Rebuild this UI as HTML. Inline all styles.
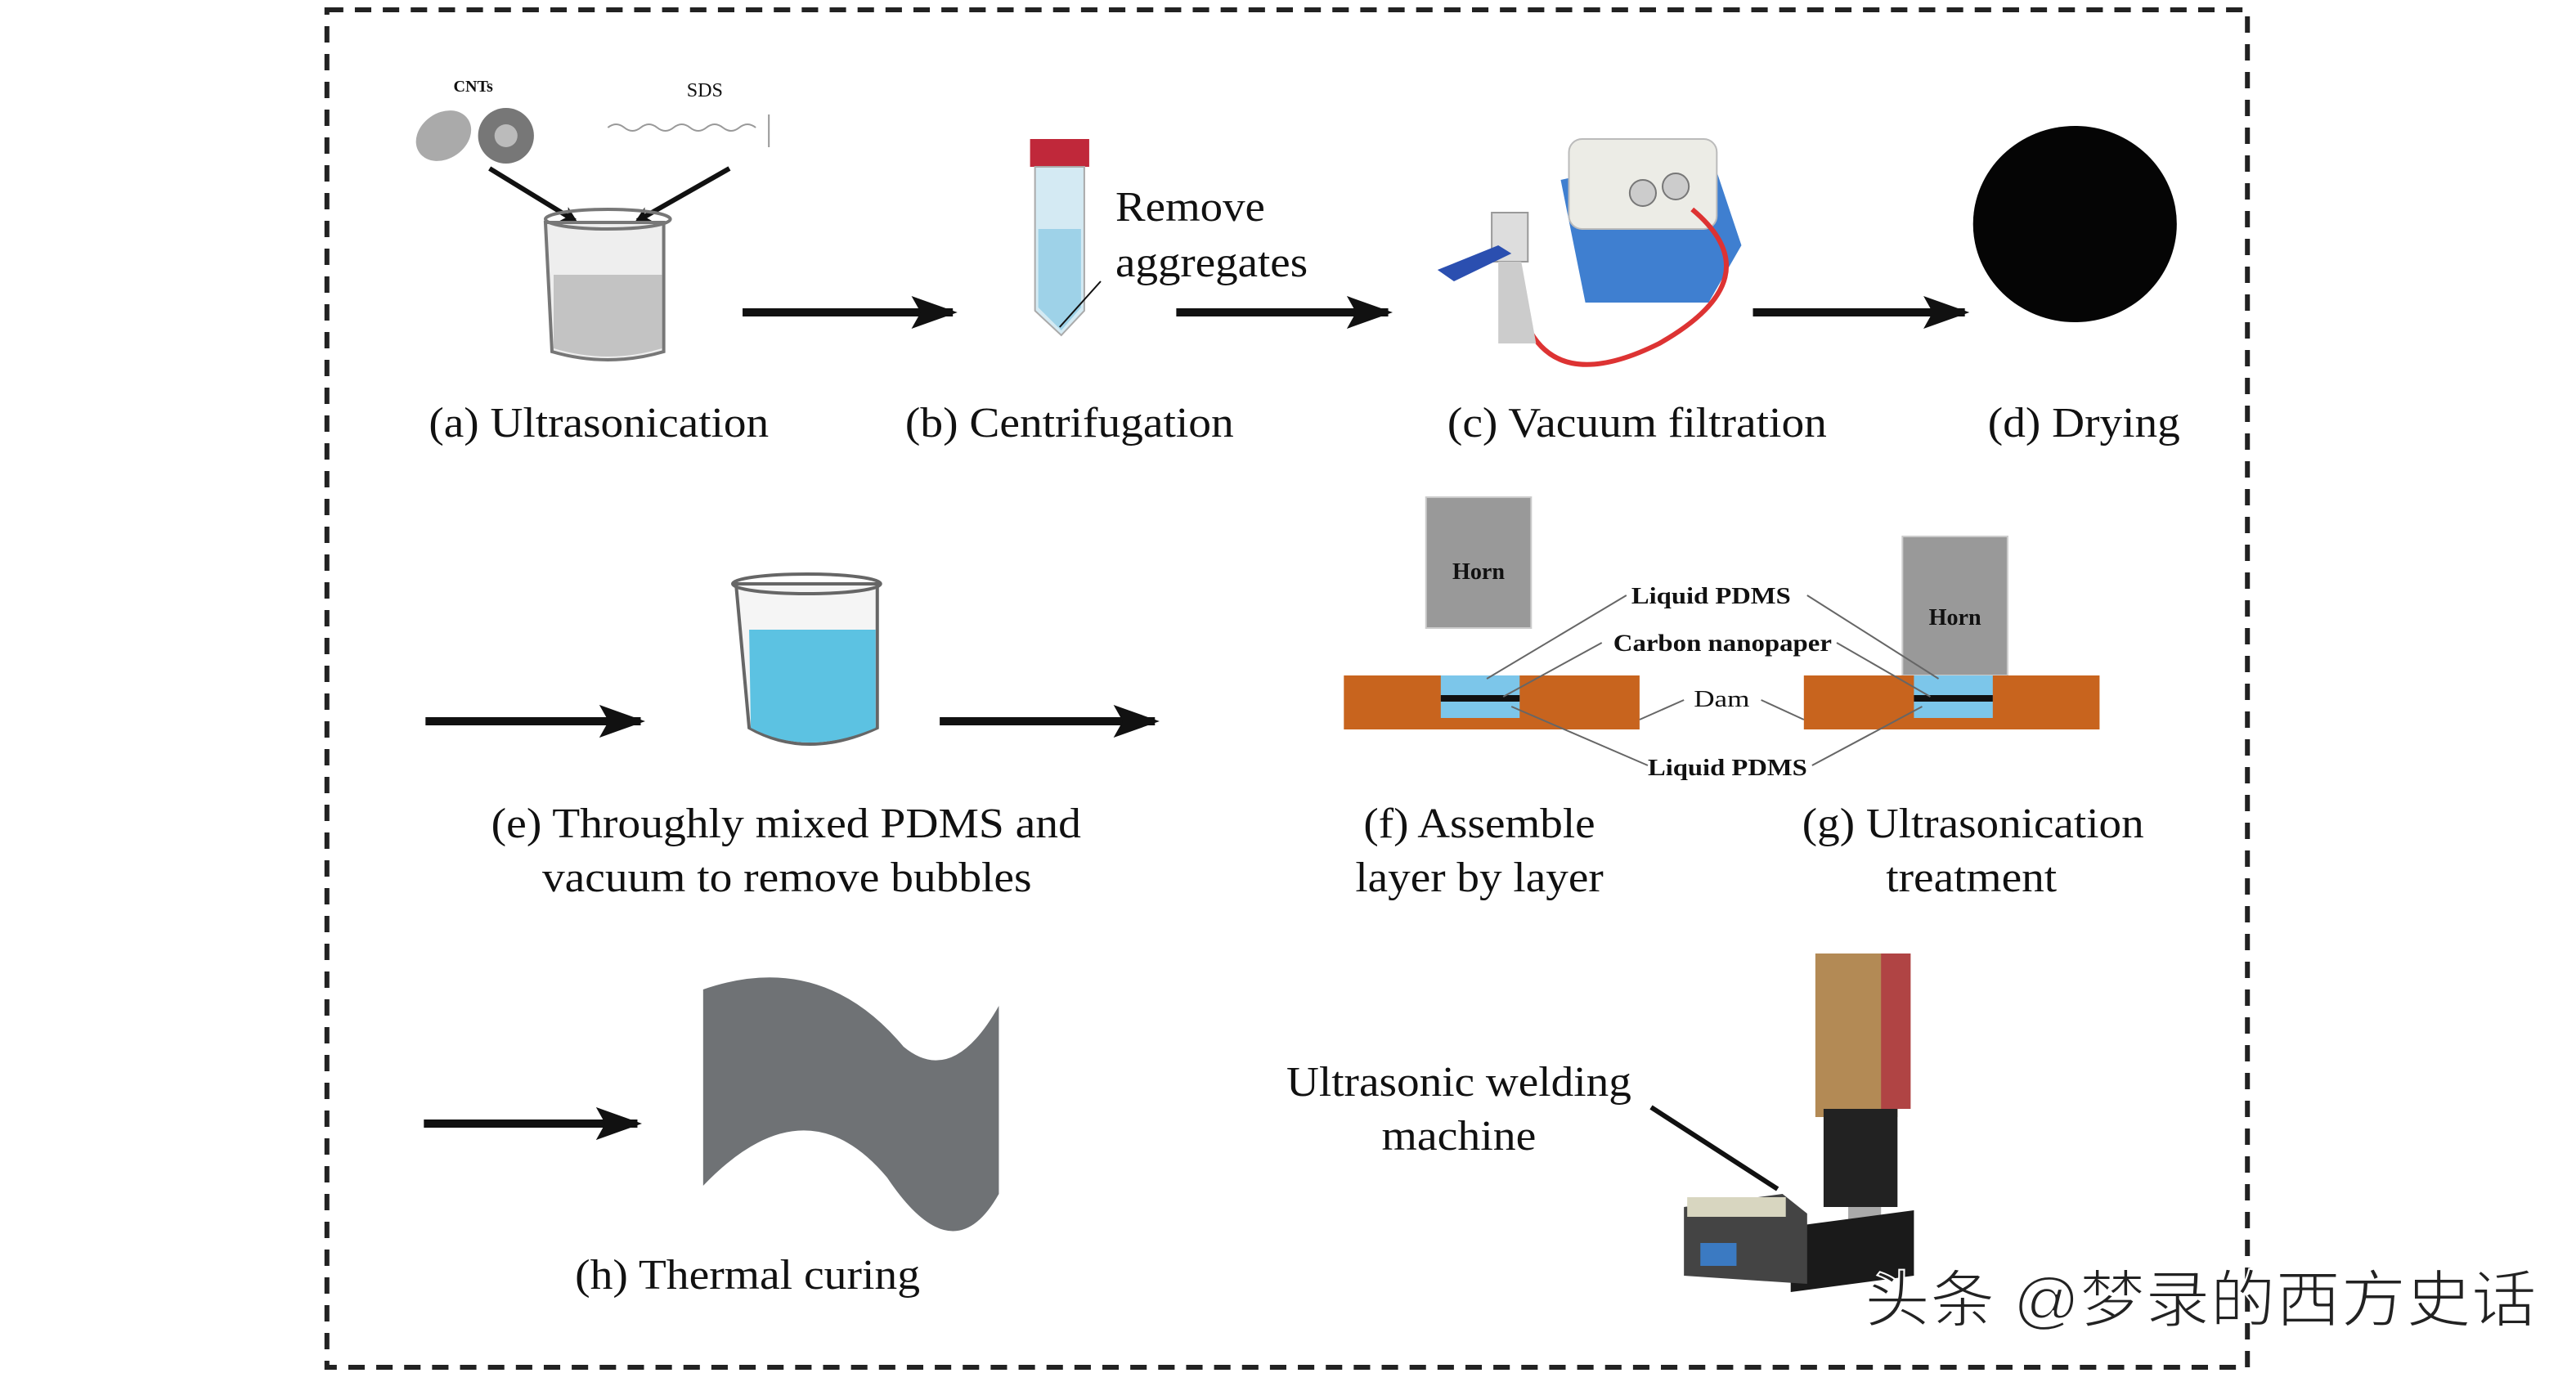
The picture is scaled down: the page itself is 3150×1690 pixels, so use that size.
<!DOCTYPE html>
<html><head><meta charset="utf-8"><style>
html,body{margin:0;padding:0;background:#fff;}
svg{display:block;}
text{font-family:"Liberation Serif",serif;fill:#111;}
</style></head><body>
<svg width="3150" height="1690" viewBox="0 0 1568 845" preserveAspectRatio="none" xmlns="http://www.w3.org/2000/svg">
<defs>
<marker id="ah" markerWidth="10" markerHeight="10" refX="8" refY="5" orient="auto" markerUnits="userSpaceOnUse">
<path d="M0,0 L10,5 L0,10 L3,5 Z" fill="#111"/></marker>
<marker id="ab" viewBox="0 0 10 10" markerWidth="28" markerHeight="20" refX="9" refY="5" orient="auto" markerUnits="userSpaceOnUse" preserveAspectRatio="none">
<path d="M0,0 L10,5 L0,10 L2,5 Z" fill="#111"/></marker>
</defs>
<rect x="199" y="6" width="1169" height="830" fill="none" stroke="#222" stroke-width="3" stroke-dasharray="10,7"/>

<!-- (a) -->
<text x="276" y="56" font-size="10" font-weight="bold">CNTs</text>
<text x="418" y="59" font-size="12">SDS</text>
<ellipse cx="270" cy="83" rx="18" ry="14" fill="#aaa" transform="rotate(-35 270 83)"/>
<circle cx="308" cy="83" r="17" fill="#777"/><circle cx="308" cy="83" r="7" fill="#bbb"/>
<path d="M370,78 q5,-4 10,0 t10,0 t10,0 t10,0 t10,0 t10,0 t10,0 t10,0 t10,0" fill="none" stroke="#999"/>
<line x1="468" y1="70" x2="468" y2="90" stroke="#999"/>
<line x1="298" y1="103" x2="350" y2="135" stroke="#111" stroke-width="3" marker-end="url(#ah)"/>
<line x1="444" y1="103" x2="388" y2="135" stroke="#111" stroke-width="3" marker-end="url(#ah)"/>
<path d="M332,136 L404,136 L404,215 Q370,225 336,215 Z" fill="#eee" stroke="#777" stroke-width="2"/>
<path d="M337,168 L403,168 L403,213 Q370,223 337,213 Z" fill="#c3c3c3"/>
<ellipse cx="370" cy="134" rx="38" ry="6" fill="none" stroke="#777" stroke-width="2"/>
<text x="261" y="267" font-size="26" textLength="207" lengthAdjust="spacingAndGlyphs">(a) Ultrasonication</text>

<line x1="452" y1="191" x2="580" y2="191" stroke="#111" stroke-width="5" marker-end="url(#ab)"/>

<!-- (b) -->
<rect x="627" y="85" width="36" height="17" fill="#c0283a"/>
<path d="M630,102 L660,102 L660,190 L646,205 L630,190 Z" fill="#d4eaf3" stroke="#aaa"/>
<path d="M632,140 L658,140 L658,188 L646,202 L632,188 Z" fill="#9ed2e8"/>
<line x1="645" y1="200" x2="670" y2="172" stroke="#111"/>
<text x="679" y="135" font-size="26" textLength="91" lengthAdjust="spacingAndGlyphs">Remove</text>
<text x="679" y="169" font-size="26" textLength="117" lengthAdjust="spacingAndGlyphs">aggregates</text>
<text x="551" y="267" font-size="26" textLength="200" lengthAdjust="spacingAndGlyphs">(b) Centrifugation</text>

<line x1="716" y1="191" x2="845" y2="191" stroke="#111" stroke-width="5" marker-end="url(#ab)"/>

<!-- (c) -->
<path d="M950,110 L1040,90 L1060,150 L1040,185 L965,185 Z" fill="#3f7fd0"/>
<rect x="955" y="85" width="90" height="55" rx="8" fill="#ecece6" stroke="#bbb"/>
<circle cx="1000" cy="118" r="8" fill="#ccc" stroke="#777"/><circle cx="1020" cy="114" r="8" fill="#ccc" stroke="#777"/>
<path d="M1030,128 Q1080,170 1010,210 Q950,240 930,200" fill="none" stroke="#d33" stroke-width="3"/>
<rect x="908" y="130" width="22" height="30" fill="#ddd" stroke="#999"/>
<path d="M912,160 L926,160 L935,210 L912,210 Z" fill="#ccc"/>
<path d="M875,165 L912,150 L920,155 L885,172 Z" fill="#2b4fb0"/>
<text x="881" y="267" font-size="26" textLength="231" lengthAdjust="spacingAndGlyphs">(c) Vacuum filtration</text>

<line x1="1067" y1="191" x2="1196" y2="191" stroke="#111" stroke-width="5" marker-end="url(#ab)"/>

<!-- (d) -->
<ellipse cx="1263" cy="137" rx="62" ry="60" fill="#050505"/>
<text x="1210" y="267" font-size="26" textLength="117" lengthAdjust="spacingAndGlyphs">(d) Drying</text>

<!-- row 2 -->
<line x1="259" y1="441" x2="390" y2="441" stroke="#111" stroke-width="5" marker-end="url(#ab)"/>
<path d="M448,357 L534,357 L534,445 Q491,465 456,445 Z" fill="#f5f5f5" stroke="#666" stroke-width="2"/>
<path d="M456,385 L533,385 L533,445 Q491,463 457,445 Z" fill="#5cc2e2"/>
<ellipse cx="491" cy="357" rx="45" ry="6" fill="none" stroke="#666" stroke-width="2"/>
<line x1="572" y1="441" x2="703" y2="441" stroke="#111" stroke-width="5" marker-end="url(#ab)"/>
<text x="299" y="512" font-size="26" textLength="359" lengthAdjust="spacingAndGlyphs">(e) Throughly mixed PDMS and</text>
<text x="330" y="545" font-size="26" textLength="298" lengthAdjust="spacingAndGlyphs">vacuum to remove bubbles</text>

<!-- (f)(g) -->
<rect x="868" y="304" width="64" height="80" fill="#999" stroke="#ccc"/>
<text x="900" y="354" font-size="14" font-weight="bold" text-anchor="middle">Horn</text>
<rect x="1158" y="328" width="64" height="85" fill="#999" stroke="#ccc"/>
<text x="1190" y="382" font-size="14" font-weight="bold" text-anchor="middle">Horn</text>
<rect x="818" y="413" width="180" height="33" fill="#c8641e"/>
<rect x="1098" y="413" width="180" height="33" fill="#c8641e"/>
<rect x="877" y="413" width="48" height="26" fill="#7cc6ea"/>
<rect x="877" y="425" width="48" height="4" fill="#111"/>
<rect x="1165" y="413" width="48" height="26" fill="#7cc6ea"/>
<rect x="1165" y="425" width="48" height="4" fill="#111"/>
<g stroke="#666" stroke-width="1" fill="none">
<line x1="990" y1="364" x2="905" y2="415"/><line x1="1100" y1="364" x2="1180" y2="415"/>
<line x1="975" y1="393" x2="915" y2="426"/><line x1="1118" y1="393" x2="1175" y2="426"/>
<line x1="1025" y1="428" x2="998" y2="440"/><line x1="1072" y1="428" x2="1098" y2="440"/>
<line x1="1003" y1="468" x2="920" y2="432"/><line x1="1103" y1="468" x2="1170" y2="432"/>
</g>
<text x="993" y="369" font-size="14" font-weight="bold" textLength="97" lengthAdjust="spacingAndGlyphs">Liquid PDMS</text>
<text x="982" y="398" font-size="15" font-weight="bold" textLength="133" lengthAdjust="spacingAndGlyphs">Carbon nanopaper</text>
<text x="1031" y="432" font-size="14" textLength="34" lengthAdjust="spacingAndGlyphs">Dam</text>
<text x="1003" y="474" font-size="14" font-weight="bold" textLength="97" lengthAdjust="spacingAndGlyphs">Liquid PDMS</text>
<text x="830" y="512" font-size="26" textLength="141" lengthAdjust="spacingAndGlyphs">(f) Assemble</text>
<text x="825" y="545" font-size="26" textLength="151" lengthAdjust="spacingAndGlyphs">layer by layer</text>
<text x="1097" y="512" font-size="26" textLength="208" lengthAdjust="spacingAndGlyphs">(g) Ultrasonication</text>
<text x="1148" y="545" font-size="26" textLength="104" lengthAdjust="spacingAndGlyphs">treatment</text>

<!-- row 3 -->
<line x1="258" y1="687" x2="388" y2="687" stroke="#111" stroke-width="5" marker-end="url(#ab)"/>
<path d="M428,605 Q500,580 550,640 Q580,665 608,615 L608,730 Q580,780 540,720 Q490,660 428,725 Z" fill="#6f7275"/>
<text x="350" y="788" font-size="26" textLength="210" lengthAdjust="spacingAndGlyphs">(h) Thermal curing</text>

<text x="783" y="670" font-size="26" textLength="210" lengthAdjust="spacingAndGlyphs">Ultrasonic welding</text>
<text x="841" y="703" font-size="26" textLength="94" lengthAdjust="spacingAndGlyphs">machine</text>
<line x1="1005" y1="677" x2="1082" y2="727" stroke="#111" stroke-width="3"/>
<rect x="1105" y="583" width="50" height="100" fill="#b38a55"/>
<rect x="1145" y="583" width="18" height="95" fill="#b04444"/>
<rect x="1110" y="678" width="45" height="60" fill="#222"/>
<rect x="1125" y="738" width="20" height="30" fill="#aaa"/>
<path d="M1090,750 L1165,740 L1165,780 L1090,790 Z" fill="#1a1a1a"/>
<path d="M1025,738 L1085,730 L1100,742 L1100,785 L1025,780 Z" fill="#444"/>
<rect x="1035" y="760" width="22" height="14" fill="#3b7ac2"/>
<rect x="1027" y="732" width="60" height="12" fill="#d8d6c0"/>

<text x="1135" y="808" font-size="38" textLength="409" lengthAdjust="spacingAndGlyphs" style="font-family:'Liberation Sans','Noto Sans CJK SC',sans-serif;fill:#222;stroke:#fff;stroke-width:1">头条 @梦录的西方史话</text>
</svg>
</body></html>
